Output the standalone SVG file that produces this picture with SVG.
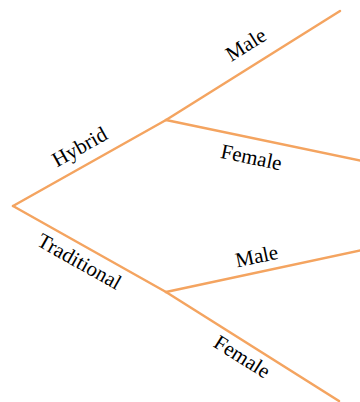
<svg xmlns="http://www.w3.org/2000/svg" width="360" height="402" viewBox="0 0 360 402">
<style>
.edge{stroke:#f4a460;stroke-width:2.5;fill:none;stroke-linecap:round}
.lbl{font-size:21px;fill:#000;text-anchor:middle}
</style>
<rect width="360" height="402" fill="#fff"/>
<g id="connectors">
<line class="edge" x1="13" y1="206" x2="166" y2="120"/>
<line class="edge" x1="13" y1="206" x2="166" y2="292"/>
<line class="edge" x1="166" y1="120" x2="340" y2="11"/>
<line class="edge" x1="166" y1="120" x2="362" y2="161"/>
<line class="edge" x1="166" y1="292" x2="362" y2="250"/>
<line class="edge" x1="166" y1="292" x2="339" y2="401"/>
</g>
<g font-family="Liberation Serif, Times New Roman, DejaVu Serif, serif">
<g id="label-hybrid"><text class="lbl" transform="translate(83,153) rotate(-29.3)">Hybrid</text></g>
<g id="label-traditional"><text class="lbl" transform="translate(76,267.5) rotate(29.3)">Traditional</text></g>
<g id="label-male-1"><text class="lbl" transform="translate(249.5,50.5) rotate(-32)">Male</text></g>
<g id="label-female-1"><text class="lbl" transform="translate(250,164) rotate(11.9)">Female</text></g>
<g id="label-male-2"><text class="lbl" transform="translate(258,263) rotate(-11.9)">Male</text></g>
<g id="label-female-2"><text class="lbl" transform="translate(238.5,362.5) rotate(32.1)">Female</text></g>
</g>
</svg>
